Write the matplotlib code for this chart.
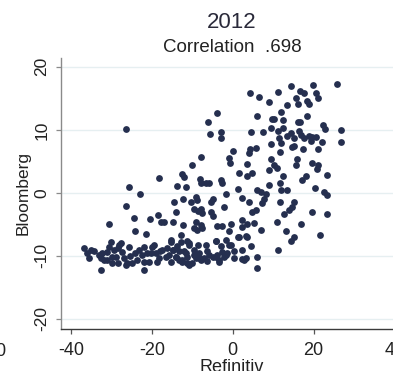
import matplotlib
matplotlib.use("Agg")
import matplotlib.pyplot as plt

plt.rcParams['font.family'] = ['Liberation Sans', 'DejaVu Sans']
plt.rcParams['axes.unicode_minus'] = False

year = "2012"
corr_text = "Correlation  .698"
x_label = "Refinitiv"
y_label = "Bloomberg"
x_ticks = [-40, -20, 0, 20, 40]
y_ticks = [-20, -10, 0, 10, 20]

# upper cluster
upper_x = [4.3, 6.5, 9.0, 11.3, 14.4, 16.6, 17.7, 19.8, 20.5, 21.1, 25.7, 15.6, 16.2, 18.5, 18.9,
           13.4, 11.9, -3.8, -6.1, 6.1, 9.8, 10.2, 12.5, 16.2, 16.7, 18.5, 22.4, 22.8, 26.7, -5.6,
           -2.8, -2.8, 4.6, 7.6, 9.4, 11.1, 12.5, 11.5, 13.5, 14.4, 15.2, 16.4, 17.0, 17.7, 18.9,
           19.7, 20.5, 19.3, 22.2, 26.7, 9.4, 11.9, 14.8, 15.2, 17.5, 21.1, 0.1, 4.3, 5.7, 4.0,
           11.6, -7.8, -0.8, 9.4, 16.0, -26.5]
upper_y = [15.9, 15.2, 14.4, 16.0, 16.9, 16.2, 15.9, 17.1, 15.8, 15.1, 17.2, 15.1, 14.1, 14.6, 14.1,
           14.0, 12.9, 12.7, 11.2, 12.2, 11.8, 11.8, 11.6, 11.3, 11.3, 12.2, 10.7, 10.1, 9.9, 9.4,
           9.7, 8.7, 9.7, 9.6, 10.3, 9.8, 10.3, 8.7, 9.0, 9.5, 8.7, 9.8, 9.2, 8.7, 9.0,
           8.8, 8.9, 8.2, 8.1, 8.1, 7.8, 7.9, 7.3, 7.4, 6.9, 7.0, 6.6, 7.0, 7.1, 6.3,
           6.5, 5.7, 5.6, 5.4, 5.3, 10.2]

# middle, left part
mid_left_x = [-0.7, -10.0, 3.6, -18.2, -12.5, -12.0, 1.6, 3.6, 4.9, -8.2, -7.9, -6.7, -5.9, -3.0, -2.6,
              -13.9, -11.6, -25.7, -22.9, -1.7, 1.3, 2.2, 4.0, -9.2, -8.8, -12.2, -10.2, -14.5, -5.4, -4.8,
              -26.5, -2.1, -14.0, -9.6, -8.6, -7.8, -7.5, -5.4, -5.0, 4.9, -18.6, -24.4, -20.5, -17.8, -17.0,
              -14.9, -12.2, -9.2, -7.9, -3.8, -2.6, -0.5, 2.4, 3.6, 2.4, -30.6, -24.2, -21.5, -12.9, -9.6,
              -8.8, -0.9, 1.6, 3.6, -15.3]
mid_left_y = [4.8, 4.4, 4.6, 2.3, 3.0, 2.5, 3.2, 2.6, 3.1, 2.2, 1.5, 1.6, 1.5, 2.1, 1.6,
              1.1, 1.0, 1.0, -0.2, -0.2, 0.6, -0.8, -1.4, -0.6, -1.1, -1.0, -1.5, -1.5, -1.4, -1.0,
              -2.1, -2.3, -3.0, -2.6, -2.8, -2.6, -3.2, -3.0, -3.7, -3.0, -3.5, -4.0, -4.1, -4.7, -4.7,
              -4.7, -5.1, -4.6, -5.1, -5.3, -5.2, -4.9, -4.3, -4.9, -5.4, -4.9, -6.1, -6.5, -6.7, -5.6,
              -5.9, -6.1, -7.0, -7.0, -7.4]

# middle, right part
mid_right_x = [10.2, 11.0, 9.0, 15.6, 19.7, 21.0, 20.8, 23.4, 12.5, 18.1, 17.2, 11.7, 9.0, 6.1, 6.9,
               8.2, 7.8, 7.3, 5.7, 11.9, 13.4, 20.4, 22.6, 23.4, 11.7, 15.2, 14.8, 13.9, 12.7, 19.6,
               23.3, 5.3, 10.9, 16.8, 7.1, 13.1, 15.2, 14.4, 21.6]
mid_right_y = [4.4, 3.9, 3.7, 4.4, 4.8, 4.4, 3.8, 2.8, 2.7, 2.6, 2.0, 1.6, 1.3, 0.5, 0.2,
               -0.2, -1.0, -1.6, -2.7, 0.5, 0.5, 0.7, 0.2, -0.4, -1.5, -1.4, -2.2, -2.7, -3.3, -3.0,
               -3.3, -4.8, -4.7, -4.9, -5.9, -6.1, -7.0, -7.7, -6.7]

# lower band, left part
band_left_x = [-36.8, -36.0, -35.1, -35.5, -33.1, -32.7, -31.0, -30.6, -31.9, -30.2, -29.4, -29.8, -28.5, -28.1, -27.3,
               -26.9, -26.5, -25.7, -25.3, -24.9, -23.2, -22.4, -22.0, -21.1, -20.7, -21.9, -19.9, -19.1, -18.2, -17.4,
               -16.6, -15.3, -14.9, -14.1, -11.6, -12.9,
               -32.3, -31.0, -29.8, -29.0, -28.5, -27.7, -26.1, -24.1, -23.6, -22.0, -20.3, -19.5, -18.7, -17.9,
               -16.2, -15.7, -13.7, -15.3, -13.3, -32.7, -34.3]
band_left_y = [-8.8, -9.6, -9.1, -10.4, -9.9, -12.3, -9.4, -8.6, -10.7, -7.8, -9.1, -10.1, -11.2, -8.3, -9.4,
               -10.4, -11.5, -8.6, -10.0, -11.2, -9.1, -9.9, -8.6, -9.6, -10.9, -12.3, -8.6, -9.6, -10.4, -9.0,
               -10.2, -7.8, -9.1, -10.2, -9.6, -7.8,
               -9.5, -10.6, -11.1, -10.1, -8.7, -7.9, -11.1, -9.6, -10.6, -11.0, -9.5, -8.2, -11.0, -9.2,
               -8.7, -9.8, -8.4, -11.0, -10.7, -10.3, -9.2]

# lower band, right part
band_right_x = [-7.5, -1.7, -4.2, -0.5, -3.0, -6.7, -11.2, -10.8, -12.0, -9.6, -8.3, -6.3, -5.0, -3.8, -2.1,
                -1.3, 0.3, 2.4, 3.2, 2.4, 4.5, 6.1, 6.1, 11.1, -11.2, -10.0, -9.2, -7.1, -12.5, -10.8,
                -7.9, -3.4, -2.6,
                -10.8, -8.7, -4.2, -0.9, 1.2, 3.2, -1.7, -4.2, -5.9, -8.3, -13.3, -14.9, -14.1, -12.5, -11.2,
                -3.4, -6.3, -9.6, 2.8, 0.3]
band_right_y = [-5.6, -7.5, -7.6, -8.2, -8.5, -8.2, -7.7, -8.2, -9.3, -9.0, -9.6, -9.3, -10.1, -9.8, -10.1,
                -9.6, -10.4, -10.5, -10.4, -9.1, -8.5, -10.1, -11.9, -9.0, -10.1, -11.2, -10.4, -10.4, -10.9, -11.4,
                -10.6, -10.6, -9.4,
                -7.9, -8.2, -7.7, -8.3, -7.0, -6.9, -9.8, -10.1, -9.8, -10.3, -9.3, -9.0, -10.1, -10.6, -11.1,
                -10.9, -10.8, -9.8, -10.6, -9.2]

refinitiv = upper_x + mid_left_x + mid_right_x + band_left_x + band_right_x
bloomberg = upper_y + mid_left_y + mid_right_y + band_left_y + band_right_y

W, H = 393, 371
fig = plt.figure(figsize=(W / 100, H / 100), dpi=100)
ax = fig.add_axes([61 / W, 42 / H, 353.5 / W, 271 / H])

dot = '#252f4f'
ax.scatter(refinitiv, bloomberg, s=24, color=dot, linewidths=0, zorder=3)

ax.set_xlim(-42.5, 45)
ax.set_ylim(-21.6, 21.4)
ax.set_xticks(x_ticks)
ax.set_yticks(y_ticks)
ax.grid(axis='y', color='#e6eff1', lw=1.0, zorder=0)
ax.grid(axis='x', visible=False)

for s in ['top', 'right']:
    ax.spines[s].set_visible(False)
ax.spines['left'].set_color('#8a8a8a')
ax.spines['bottom'].set_color('#3a3a3a')
ax.spines['left'].set_linewidth(1.0)
ax.spines['bottom'].set_linewidth(1.0)

ax.tick_params(axis='x', direction='out', length=3.5, width=0.9, color='#555555',
               labelsize=13, labelcolor='#222222', pad=6)
ax.tick_params(axis='y', direction='out', length=3.5, width=0.9, color='#8a8a8a',
               labelsize=12.5, labelcolor='#222222', pad=5, labelrotation=90)
for lab in ax.get_yticklabels():
    lab.set_va('center')

ax.set_xlabel(x_label, fontsize=13, color='#222222')
ax.xaxis.set_label_coords((232 - 61) / 353.5, (329 - 359) / 271)
ax.set_ylabel(y_label, fontsize=12.5, color='#222222')
ax.yaxis.set_label_coords((31 - 61) / 353.5, (329 - 193) / 271)

cx = 232 / W
fig.text(cx, 1 - 28 / H, year, ha='center', va='baseline', fontsize=16, color='#2a2a3a')
fig.text(cx, 1 - 52 / H, corr_text, ha='center', va='baseline', fontsize=13.5, color='#222222')

# edge of neighbouring panel's tick label
fig.text(0, 1 - 356 / H, "0", ha='center', va='baseline', fontsize=13, color='#222222')

fig.savefig("out.png", dpi=100)
